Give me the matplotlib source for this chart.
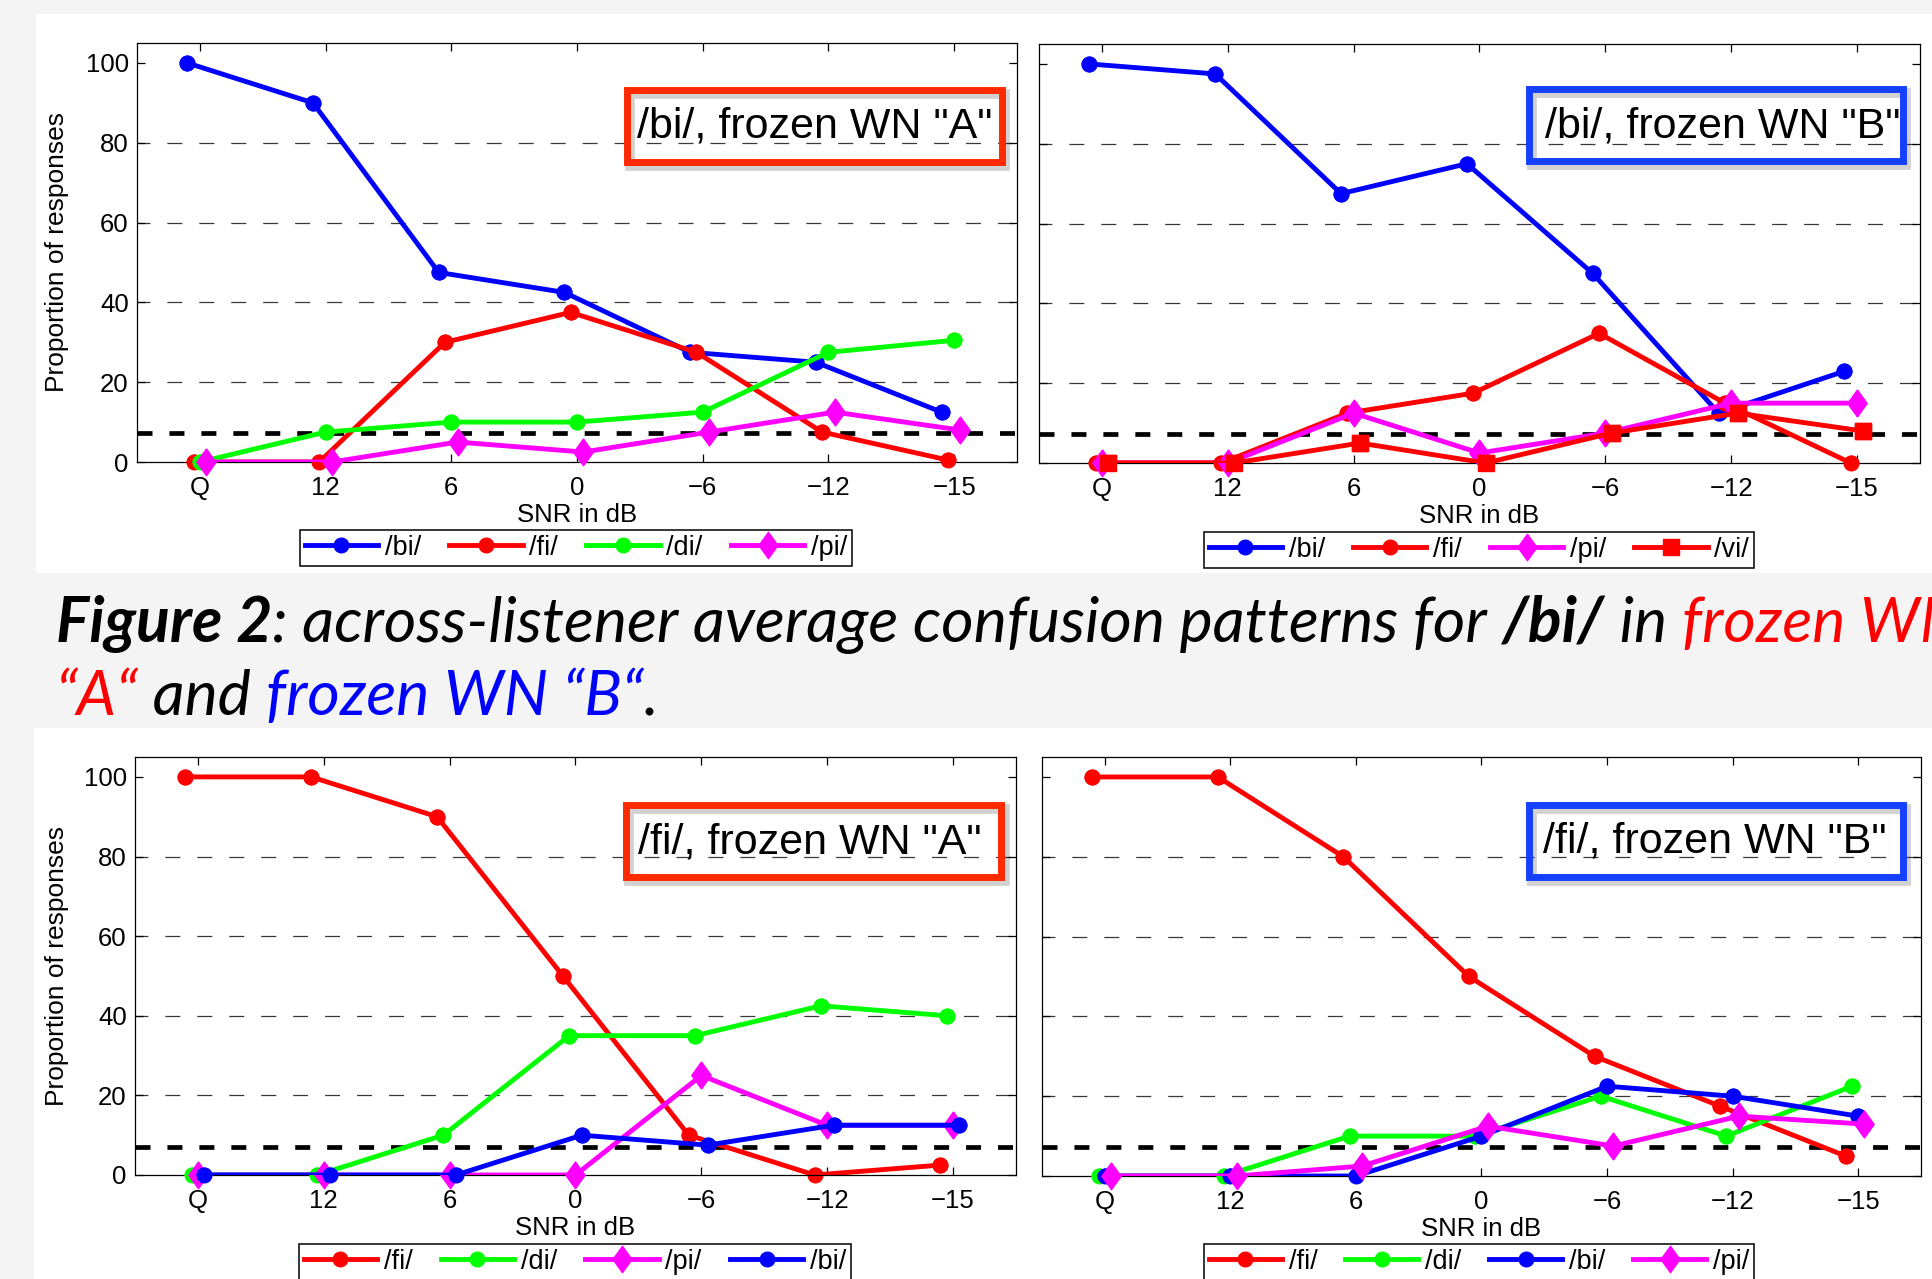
import numpy as np
import matplotlib
matplotlib.use("Agg")
import matplotlib.pyplot as plt
from matplotlib.path import Path
from matplotlib.patches import Rectangle
from matplotlib.transforms import IdentityTransform
from matplotlib.font_manager import FontProperties

# ---- data (percent of responses) ----
SNR_LABELS = ["Q", "12", "6", "0", "\u22126", "\u221212", "\u221215"]
CHANCE = 100 / 14

bi_A = {
    "bi": [100, 90, 47.5, 42.5, 27.5, 25, 12.5],
    "fi": [0, 0, 30, 37.5, 27.5, 7.5, 0.5],
    "di": [0, 7.5, 10, 10, 12.5, 27.5, 30.5],
    "pi": [0, 0, 5, 2.5, 7.5, 12.5, 8],
}
bi_B = {
    "bi": [100, 97.5, 67.5, 75, 47.5, 12.5, 23],
    "fi": [0, 0, 12.5, 17.5, 32.5, 15, 0],
    "pi": [0, 0, 12.5, 2.5, 7.5, 15, 15],
    "vi": [0, 0, 5, 0, 7.5, 12.5, 8],
}
fi_A = {
    "fi": [100, 100, 90, 50, 10, 0, 2.5],
    "di": [0, 0, 10, 35, 35, 42.5, 40],
    "pi": [0, 0, 0, 0, 25, 12.5, 12.5],
    "bi": [0, 0, 0, 10, 7.5, 12.5, 12.5],
}
fi_B = {
    "fi": [100, 100, 80, 50, 30, 17.5, 5],
    "di": [0, 0, 10, 10, 20, 10, 22.5],
    "bi": [0, 0, 0, 10, 22.5, 20, 15],
    "pi": [0, 0, 2.5, 12.5, 7.5, 15, 13],
}

# small horizontal shift of each series, as in the original matlab plots
OFFSETS = [-0.1, -0.05, 0.0, 0.05]

W, H = 1933, 1279
plt.rcParams["font.family"] = ["Liberation Sans", "DejaVu Sans"]
plt.rcParams["lines.scale_dashes"] = False

DIAMOND = Path([(0, 1), (0.72, 0), (0, -1), (-0.72, 0), (0, 1)],
               [Path.MOVETO, Path.LINETO, Path.LINETO, Path.LINETO, Path.CLOSEPOLY])
STYLE = {
    "bi": ("#0000ff", "o", 10.5),
    "fi": ("#ff0000", "o", 10.5),
    "di": ("#00ff00", "o", 10.5),
    "pi": ("#ff00ff", DIAMOND, 19),
    "vi": ("#ff0000", "s", 12),
}
DASH = (10.8, 12.2)

fig = plt.figure(figsize=(W / 100, H / 100), dpi=100, facecolor="#f4f4f4")


def rect_px(l, t, r, b, **kw):
    return Rectangle((l / W, 1 - b / H), (r - l) / W, (b - t) / H,
                     transform=fig.transFigure, **kw)


# white backgrounds of the two pasted figures
fig.add_artist(rect_px(36, 14, W, 573, facecolor="white", edgecolor="none", zorder=0))
fig.add_artist(rect_px(34, 728, W, H, facecolor="white", edgecolor="none", zorder=0))


def panel(ax_px, data, title, box_color, box_px, text_xy, legend_px, left_panel):
    l, t, r, b = ax_px
    ax = fig.add_axes([l / W, 1 - b / H, (r - l) / W, (b - t) / H])
    x = np.arange(1, len(SNR_LABELS) + 1)
    for yv in [20, 40, 60, 80]:
        ax.axhline(yv, color="#3a3a3a", lw=0.9, ls=(1.5, DASH), zorder=1)
    ax.axhline(CHANCE, color="black", lw=3.4, ls=(0, DASH), zorder=1.5)
    for k, (name, vals) in enumerate(data.items()):
        color, marker, ms = STYLE[name]
        ax.plot(x + OFFSETS[k], vals, color=color, lw=3.5, marker=marker, ms=ms,
                mfc=color, mec=color, label=f"/{name}/", zorder=2 + k)
        ax.plot(x + OFFSETS[k], vals, ls="none", marker=marker, ms=ms,
                mfc=color, mec=color, clip_on=False, zorder=2 + k)
    ax.set_xlim(0.5, 7.5)
    ax.set_ylim(0, 105)
    ax.set_xticks(x)
    ax.set_xticklabels(SNR_LABELS)
    ax.set_yticks(range(0, 101, 20))
    ax.tick_params(direction="in", top=True, right=True, length=6, width=0.9,
                   labelsize=18.5)
    ax.tick_params(axis="x", pad=10)
    ax.tick_params(axis="y", pad=6, labelleft=left_panel)
    for s in ax.spines.values():
        s.set_linewidth(0.9)
    ax.text(text_xy[0], text_xy[1], title, fontsize=31, ha="left", va="baseline", zorder=10)

    # framed label drawn on top (no fill), with soft shadow
    bl, bt, br, bb = box_px
    fig.add_artist(rect_px(bl + 3, bt + 4, br + 3, bb + 4, facecolor="none",
                           edgecolor="#000000", alpha=0.18, lw=7, zorder=20))
    fig.add_artist(rect_px(bl, bt, br, bb, facecolor="none", edgecolor=box_color,
                           lw=5, zorder=21))

    fig.text((l + r) / 2 / W, 1 - (b + 53) / H, "SNR in dB", fontsize=18.5,
             ha="center", va="center")
    if left_panel:
        fig.text(57 / W, 1 - (t + b) / 2 / H, "Proportion of responses", fontsize=19,
                 rotation=90, ha="center", va="center")

    gl, gt, gr, gb = legend_px
    leg = ax.legend(loc="upper left", bbox_to_anchor=(gl / W, 1 - gb / H, (gr - gl) / W, (gb - gt) / H),
                    bbox_transform=fig.transFigure, mode="expand", ncol=4, fontsize=19.5,
                    handlelength=2.7, handletextpad=0.25, columnspacing=0.8,
                    borderpad=0.18, borderaxespad=0, fancybox=False, framealpha=1,
                    edgecolor="black")
    leg.get_frame().set_linewidth(1.1)
    leg.set_zorder(30)
    return ax


panel((137, 43, 1017, 462), bi_A, '/bi/, frozen WN "A"', "#ff2a00",
      (627.5, 89.5, 1002.5, 161.5), (4.48, 81.2), (300, 530, 852, 573), True)
panel((1039, 44, 1920, 463), bi_B, '/bi/, frozen WN "B"', "#1540ff",
      (1529.5, 89.5, 1903.5, 160.5), (4.52, 81.5), (1204, 532, 1754, 574), False)
panel((135, 757, 1016, 1175), fi_A, '/fi/, frozen WN "A"', "#ff2a00",
      (626.5, 804.5, 1001.5, 876.5), (4.5, 80.8), (299, 1244, 851, 1287), True)
panel((1042, 757, 1921, 1176), fi_B, '/fi/, frozen WN "B"', "#1540ff",
      (1529.5, 804.5, 1903.5, 876.5), (4.49, 81.0), (1204, 1244, 1754, 1287), False)

# ---- caption with mixed styles ----
fig.canvas.draw()
renderer = fig.canvas.get_renderer()
CAP_SIZE = 45


def cap_font(bold):
    return FontProperties(family="Lato", style="italic",
                          weight="bold" if bold else "normal", size=CAP_SIZE)


def text_width(s, fp):
    w1, _, _ = renderer.get_text_width_height_descent(s + "|", fp, ismath=False)
    w2, _, _ = renderer.get_text_width_height_descent("|", fp, ismath=False)
    return w1 - w2


def rich_line(x, y_top, parts):
    for s, color, bold in parts:
        fp = cap_font(bold)
        fig.text(x, H - y_top, s, fontproperties=fp, color=color, va="baseline",
                 ha="left", transform=IdentityTransform())
        x += text_width(s, fp)


rich_line(56, 642, [("Figure 2", "black", True),
                    (": across-listener average confusion patterns for ", "black", False),
                    ("/bi/", "black", True), (" in ", "black", False),
                    ("frozen WN", "#ff0000", False)])
rich_line(56, 715, [("\u201cA\u201c", "#ff0000", False), (" and ", "black", False),
                    ("frozen WN \u201cB\u201c", "#0000ff", False), (".", "black", False)])

fig.savefig("out.png", dpi=100, facecolor=fig.get_facecolor())
